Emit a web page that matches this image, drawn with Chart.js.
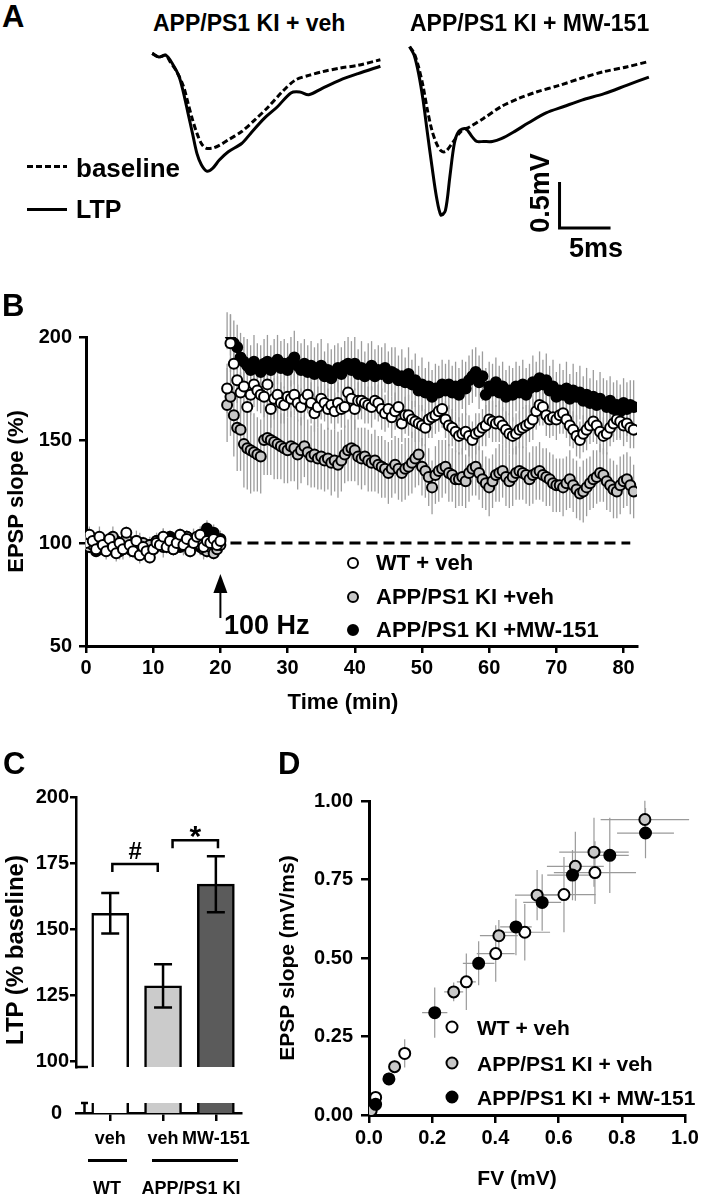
<!DOCTYPE html>
<html>
<head>
<meta charset="utf-8">
<script src="https://cdn.jsdelivr.net/npm/chart.js@4.4.1/dist/chart.umd.min.js"></script>
<style>
html,body{margin:0;padding:0;background:#fff;}
#fig{position:relative;width:703px;height:1199px;overflow:hidden;background:#fff;}
canvas{position:absolute;}
.t{position:absolute;font-family:'Liberation Sans',Arial,sans-serif;font-weight:bold;color:#000;white-space:nowrap;line-height:1;}
.c{transform:translate(-50%,-50%);}
.l{transform:translateY(-50%);}
.r90{transform:translate(-50%,-50%) rotate(-90deg);}
.dot{position:absolute;border-radius:50%;border:2px solid #000;box-sizing:border-box;transform:translate(-50%,-50%);}
.bar{position:absolute;background:#000;}
</style>
</head>
<body>
<div id="fig">
  <!-- A -->
  <canvas id="a1" width="245" height="150" style="left:142px;top:40px"></canvas>
  <canvas id="a2" width="266" height="205" style="left:399px;top:33px"></canvas>
  <div class="t l" style="left:2px;top:16px;font-size:31px">A</div>
  <div class="t l" style="left:153px;top:22.5px;font-size:23px">APP/PS1 KI + veh</div>
  <div class="t l" style="left:410px;top:22.5px;font-size:23px">APP/PS1 KI + MW-151</div>
  <div style="position:absolute;left:27px;top:165px;width:40px;height:3px;background:repeating-linear-gradient(to right,#000 0 6px,transparent 6px 9px)"></div>
  <div class="t l" style="left:76px;top:168px;font-size:26px">baseline</div>
  <div class="bar" style="left:27px;top:207.5px;width:40px;height:3px"></div>
  <div class="t l" style="left:76px;top:209px;font-size:25px">LTP</div>
  <div class="t r90" style="left:540px;top:193px;font-size:27px">0.5mV</div>
  <div class="t c" style="left:596px;top:248px;font-size:27px">5ms</div>

  <!-- B -->
  <canvas id="b" width="703" height="430" style="left:0;top:280px"></canvas>
  <div class="t l" style="left:2px;top:305px;font-size:31px">B</div>
  <div class="t c" style="left:343px;top:702px;font-size:22px">Time (min)</div>
  <div class="t l" style="left:224px;top:625px;font-size:27px">100 Hz</div>
  <div class="dot" style="left:353px;top:563px;width:12px;height:12px;background:#fff"></div>
  <div class="dot" style="left:353px;top:597px;width:12px;height:12px;background:#c8c8c8"></div>
  <div class="dot" style="left:353px;top:630px;width:12px;height:12px;background:#000"></div>
  <div class="t l" style="left:376px;top:563px;font-size:22px">WT + veh</div>
  <div class="t l" style="left:376px;top:597px;font-size:22px">APP/PS1 KI +veh</div>
  <div class="t l" style="left:376px;top:630px;font-size:22px">APP/PS1 KI +MW-151</div>

  <!-- C -->
  <canvas id="c1" width="260" height="300" style="left:0;top:780px"></canvas>
  <canvas id="c2" width="260" height="114" style="left:0;top:1085px"></canvas>
  <div class="t l" style="left:3px;top:763px;font-size:31px">C</div>
  <div class="t r90" style="left:15px;top:950px;font-size:24px">LTP (% baseline)</div>
  <div class="bar" style="left:88px;top:1158.5px;width:39px;height:3px"></div>
  <div class="bar" style="left:152px;top:1158.5px;width:86px;height:3px"></div>
  <div class="t c" style="left:107px;top:1188px;font-size:18px">WT</div>
  <div class="t c" style="left:191px;top:1188px;font-size:18px">APP/PS1 KI</div>

  <!-- D -->
  <canvas id="d" width="443" height="429" style="left:260px;top:770px"></canvas>
  <div class="t l" style="left:278px;top:763px;font-size:31px">D</div>
  <div class="t c" style="left:517px;top:1177px;font-size:21px">FV (mV)</div>
  <div class="dot" style="left:452px;top:1027px;width:13px;height:13px;background:#fff"></div>
  <div class="dot" style="left:452px;top:1063px;width:13px;height:13px;background:#c8c8c8"></div>
  <div class="dot" style="left:452px;top:1097px;width:13px;height:13px;background:#000"></div>
  <div class="t l" style="left:477px;top:1027px;font-size:21px">WT + veh</div>
  <div class="t l" style="left:477px;top:1063px;font-size:21px">APP/PS1 KI + veh</div>
  <div class="t l" style="left:477px;top:1097px;font-size:21px">APP/PS1 KI + MW-151</div>
</div>

<script>
// ---------- A: example traces (ms, mV) ----------
const VEH_BASE_MS = [0,0.66,1.32,1.75,2.41,3.07,3.51,3.95,4.39,4.82,5.26,5.92,6.58,7.46,8.77,10.09,11.40,12.72,14.04,15.35,16.67,18.42,20.18,22.37];
const VEH_BASE_MV = [0,-0.04,-0.02,-0.09,-0.20,-0.36,-0.54,-0.72,-0.87,-0.98,-1.03,-1.03,-1.00,-0.94,-0.85,-0.72,-0.58,-0.42,-0.29,-0.24,-0.20,-0.16,-0.13,-0.07];
const VEH_LTP_MS = [0,0.66,1.32,1.97,2.63,3.07,3.51,3.95,4.39,4.82,5.35,5.92,6.58,7.46,8.77,9.65,10.96,12.28,13.60,14.47,15.35,16.67,18.42,20.18,22.37];
const VEH_LTP_MV = [0,-0.04,-0.02,-0.11,-0.25,-0.43,-0.65,-0.87,-1.09,-1.21,-1.28,-1.25,-1.16,-1.07,-0.98,-0.87,-0.71,-0.58,-0.43,-0.42,-0.45,-0.38,-0.29,-0.22,-0.14];
const MW_BASE_MS = [0,0.44,0.88,1.32,1.75,2.19,2.63,3.07,3.51,4.17,5.04,5.92,7.24,8.99,10.75,12.50,14.69,16.89,19.08,21.27,23.46];
const MW_BASE_MV = [0,-0.07,-0.22,-0.43,-0.69,-0.91,-1.05,-1.13,-1.14,-1.05,-0.92,-0.87,-0.78,-0.65,-0.56,-0.49,-0.42,-0.34,-0.27,-0.22,-0.16];
const MW_LTP_MS = [0,0.44,0.88,1.32,1.75,2.19,2.63,3.07,3.51,3.95,4.39,4.82,5.48,6.14,6.58,7.24,8.11,8.99,10.31,11.62,13.38,15.13,16.89,19.08,21.27,23.46];
const MW_LTP_MV = [0,-0.09,-0.29,-0.58,-0.94,-1.30,-1.63,-1.83,-1.78,-1.41,-1.05,-0.92,-0.89,-0.98,-1.03,-1.03,-1.03,-1.00,-0.92,-0.83,-0.72,-0.65,-0.58,-0.51,-0.42,-0.33];
const BAR_MS = 5, BAR_MV = 0.5;
const BAR_AT = [14.7, -1.97];

// ---------- B: time course (min, % baseline) ----------
const TIME = [
  0,0.5,1,1.5,2,2.5,3,3.5,4,4.5,5,5.5,6,6.5,7,7.5,8,8.5,9,9.5,
  10,10.5,11,11.5,12,12.5,13,13.5,14,14.5,15,15.5,16,16.5,17,17.5,18,18.5,19,19.5,20,
  21,21.5,22,22.5,23,23.5,24,24.5,25,25.5,26,26.5,27,27.5,28,28.5,29,29.5,30,30.5,
  31,31.5,32,32.5,33,33.5,34,34.5,35,35.5,36,36.5,37,37.5,38,38.5,39,39.5,40,40.5,
  41,41.5,42,42.5,43,43.5,44,44.5,45,45.5,46,46.5,47,47.5,48,48.5,49,49.5,50,50.5,
  51,51.5,52,52.5,53,53.5,54,54.5,55,55.5,56,56.5,57,57.5,58,58.5,59,59.5,60,60.5,
  61,61.5,62,62.5,63,63.5,64,64.5,65,65.5,66,66.5,67,67.5,68,68.5,69,69.5,70,70.5,
  71,71.5,72,72.5,73,73.5,74,74.5,75,75.5,76,76.5,77,77.5,78,78.5,79,79.5,80,80.5,
  81,81.5
];
const WT_VEH = [
  100,104,101,97,103,99,96,102,98,95,100,97,105,99,96,101,94,98,96,93,
  97,100,99,103,98,101,97,100,104,99,102,96,100,103,104,98,101,100,102,99,101,
  175,197,187,179,173,176,166,172,177,174,
  172,171,177,165,170,172,168,167,171,170,
  172,168,166,170,172,168,163,166,170,168,
  165,167,164,168,165,166,173,170,165,169,
  169,168,167,166,169,168,165,163,165,161,
  164,166,158,162,162,160,159,158,157,156,
  160,161,162,164,165,160,157,156,154,152,
  153,154,152,150,153,154,156,157,160,159,
  158,159,157,155,153,152,153,155,156,157,
  158,160,164,167,166,162,160,161,160,162,
  163,160,157,155,152,150,153,155,157,159,
  157,154,152,153,156,158,160,159,157,158,
  156,155
];
const KI_VEH = [
  101,98,99,102,100,97,101,99,103,98,96,100,102,97,99,101,98,100,95,99,
  97,101,100,98,102,99,97,101,100,99,103,98,100,101,99,97,96,98,95,97,99,
  167,171,162,156,155,148,146,145,144,143,
  142,150,151,150,149,148,147,146,145,147,
  146,143,145,147,144,142,143,141,142,140,
  141,139,140,138,140,143,145,146,145,142,
  141,142,140,139,140,138,137,136,134,136,
  138,136,134,136,137,139,141,143,137,135,
  132,127,133,135,136,137,134,133,131,131,
  132,130,134,136,137,134,131,129,127,130,
  133,134,135,132,130,132,134,135,134,133,
  131,133,134,135,133,132,131,129,128,128,
  127,129,131,128,126,124,125,127,129,131,
  132,134,133,130,128,126,125,128,130,131,
  128,125
];
const KI_MW = [
  100,102,98,96,101,99,97,100,98,101,99,97,100,98,96,99,100,98,97,99,
  98,101,100,102,99,103,101,100,98,101,103,99,102,100,98,101,107,103,105,100,102,
  203,201,197,195,190,188,186,184,188,185,
  183,187,188,184,186,189,185,187,184,188,
  190,186,184,187,183,186,182,185,186,181,
  184,180,183,185,182,186,187,184,187,182,
  185,181,184,186,181,184,182,185,180,183,
  182,179,181,178,182,177,179,174,177,173,
  176,171,175,173,177,174,177,173,176,172,
  177,175,179,181,183,178,181,172,176,174,
  178,173,176,171,174,172,176,173,177,172,
  175,178,176,180,177,179,174,176,171,174,
  172,175,170,174,171,173,169,172,168,171,
  167,170,168,166,169,165,167,164,168,165,
  167,166
];
const WT_VEH_SEM = [
  3,4,2,3,5,3,4,3,2,4,3,5,3,4,2,3,4,3,5,3,
  4,3,2,4,3,5,3,4,3,2,4,3,5,3,4,3,2,4,3,5,4,
  12,14,12,11,10,10,9,10,11,10,
  9,10,10,9,10,9,10,9,10,9,
  10,9,9,10,9,10,9,10,10,9,
  10,9,9,10,9,10,9,10,10,9,
  9,10,9,10,9,9,10,9,9,10,
  9,10,9,9,10,9,10,9,10,9,
  9,10,9,10,9,9,10,9,10,9,
  10,9,10,9,10,9,9,10,9,10,
  9,10,9,9,10,9,10,9,10,10,
  9,10,9,10,9,10,9,9,10,9,
  10,9,10,9,10,9,9,10,9,10,
  9,10,9,10,9,9,10,9,10,9,
  10,9
];
const KI_VEH_SEM = [
  4,3,5,3,4,2,3,4,5,3,4,3,2,4,3,5,4,3,3,4,
  3,4,3,5,2,4,3,4,3,5,3,4,2,3,4,5,3,4,3,4,3,
  18,19,20,21,20,21,20,21,19,18,
  18,17,18,17,18,17,16,17,16,17,
  16,17,16,15,16,15,16,15,16,15,
  15,16,15,16,15,14,15,16,15,14,
  15,14,15,14,15,14,15,14,15,14,
  14,15,14,15,14,15,14,15,14,13,
  14,13,14,15,14,13,14,13,14,13,
  14,13,14,13,14,13,14,13,14,13,
  13,14,13,14,13,14,13,14,13,14,
  13,14,13,14,13,14,13,14,13,13,
  14,13,14,13,14,13,15,14,13,14,
  13,14,13,14,13,14,13,14,13,13,
  14,13
];
const KI_MW_SEM = [
  3,3,4,2,3,4,3,5,3,4,2,3,4,3,3,4,5,3,4,3,
  4,3,3,5,4,3,4,3,2,4,3,4,5,3,4,3,4,5,4,3,4,
  9,10,11,11,12,12,13,12,13,12,
  13,12,13,12,13,12,13,12,13,12,
  13,12,13,12,13,12,13,12,13,12,
  13,14,13,12,13,12,13,14,13,12,
  13,12,13,12,13,12,13,12,13,12,
  13,12,13,12,13,12,13,12,13,12,
  12,13,12,13,12,13,12,13,12,13,
  12,13,12,13,12,13,12,13,12,13,
  12,13,12,13,12,13,12,13,12,13,
  12,13,12,13,12,13,12,13,12,13,
  12,13,12,13,12,13,12,13,12,13,
  12,13,12,13,12,13,12,13,12,13,
  12,13
];
const BASELINE_T = [21.5, 81];
const BASELINE_V = [100, 100];
const STIM_T = 20, ARROW_TIP = 85, ARROW_TAIL = 63.6;
const B_XTICKS = [0,10,20,30,40,50,60,70,80];
const B_YTICKS = [50,100,150,200];

// ---------- C: LTP summary ----------
const C_POS = [1, 2, 3];
const C_LABELS = ['veh', 'veh', 'MW-151'];
const LTP_MEAN = [156, 128.5, 167];
const LTP_SEM = [7.7, 8.2, 10.6];
const C_FILL = ['#ffffff', '#cbcbcb', '#5b5b5b'];
const C_YTICKS = [100, 125, 150, 175, 200];
const SIG = [
  { from: 1.04, to: 1.9, y: 174.6, text: '#' },
  { from: 2.18, to: 3.04, y: 183.6, text: '*' }
];

// ---------- D: input-output ----------
const D_WT_FV = [0.021,0.113,0.308,0.401,0.493,0.617,0.715];
const D_WT_SLOPE = [0.056,0.196,0.424,0.514,0.582,0.702,0.772];
const D_WT_FV_SEM = [0.01,0.01,0.03,0.06,0.08,0.1,0.13];
const D_WT_SLOPE_SEM = [0.01,0.045,0.09,0.09,0.09,0.12,0.1];
const D_KI_FV = [0.007,0.081,0.268,0.411,0.532,0.653,0.712,0.873];
const D_KI_SLOPE = [0.014,0.154,0.392,0.571,0.700,0.792,0.837,0.941];
const D_KI_FV_SEM = [0.005,0.01,0.03,0.06,0.07,0.09,0.11,0.14];
const D_KI_SLOPE_SEM = [0.008,0.02,0.03,0.05,0.08,0.11,0.11,0.06];
const D_MW_FV = [0.021,0.063,0.208,0.347,0.465,0.548,0.644,0.762,0.875];
const D_MW_SLOPE = [0.034,0.115,0.326,0.483,0.599,0.677,0.764,0.827,0.898];
const D_MW_FV_SEM = [0.008,0.01,0.04,0.05,0.05,0.06,0.08,0.06,0.09];
const D_MW_SLOPE_SEM = [0.01,0.02,0.08,0.07,0.09,0.09,0.08,0.12,0.08];
const D_XTICKS = [0,0.2,0.4,0.6,0.8,1.0];
const D_YTICKS = [0,0.25,0.5,0.75,1.0];

// ---------- common ----------
Chart.defaults.font.family = "'Liberation Sans', Arial, sans-serif";
Chart.defaults.font.weight = 'bold';
Chart.defaults.color = '#000';
Chart.defaults.animation = false;
Chart.defaults.responsive = false;
Chart.defaults.plugins.legend.display = false;
Chart.defaults.plugins.tooltip.enabled = false;

const xy = (xs, ys) => xs.map((x, i) => ({ x, y: ys[i] }));
const fixTicks = vals => axis => { axis.ticks = vals.map(v => ({ value: v })); };

const errorBars = {
  id: 'errorBars',
  beforeDatasetsDraw(chart, args, opts) {
    const { ctx, scales: { x, y } } = chart;
    ctx.save();
    ctx.strokeStyle = opts.color || '#999';
    ctx.lineWidth = opts.width || 1;
    chart.data.datasets.forEach(ds => {
      if (!ds.errY) return;
      ds.data.forEach((p, i) => {
        const px = x.getPixelForValue(p.x), py = y.getPixelForValue(p.y);
        ctx.beginPath();
        ctx.moveTo(px, y.getPixelForValue(p.y - ds.errY[i]));
        ctx.lineTo(px, y.getPixelForValue(p.y + ds.errY[i]));
        if (ds.errX) {
          ctx.moveTo(x.getPixelForValue(p.x - ds.errX[i]), py);
          ctx.lineTo(x.getPixelForValue(p.x + ds.errX[i]), py);
        }
        ctx.stroke();
      });
    });
    ctx.restore();
  }
};

/* ========= A ========= */
function traceChart(id, xr, yr, base, ltp, extra) {
  return new Chart(document.getElementById(id), {
    type: 'line',
    data: {
      datasets: [
        { data: base, borderDash: [6, 3] },
        { data: ltp }
      ]
    },
    options: {
      devicePixelRatio: 1,
      layout: { padding: 0 },
      elements: {
        point: { radius: 0 },
        line: { tension: 0.3, borderWidth: 3, borderColor: '#000', fill: false }
      },
      scales: {
        x: { type: 'linear', display: false, min: xr[0], max: xr[1] },
        y: { type: 'linear', display: false, min: yr[0], max: yr[1] }
      }
    },
    plugins: extra ? [extra] : []
  });
}

const scaleBar = {
  id: 'scaleBar',
  afterDatasetsDraw(chart) {
    const { ctx, scales: { x, y } } = chart;
    const x0 = x.getPixelForValue(BAR_AT[0]), y0 = y.getPixelForValue(BAR_AT[1]);
    const x1 = x.getPixelForValue(BAR_AT[0] + BAR_MS), y1 = y.getPixelForValue(BAR_AT[1] + BAR_MV);
    ctx.save();
    ctx.strokeStyle = '#000';
    ctx.lineWidth = 3;
    ctx.beginPath();
    ctx.moveTo(x0, y1);
    ctx.lineTo(x0, y0);
    ctx.lineTo(x1, y0);
    ctx.stroke();
    ctx.restore();
  }
};

traceChart('a1', [-1, 23.02], [-1.485, 0.145], xy(VEH_BASE_MS, VEH_BASE_MV), xy(VEH_LTP_MS, VEH_LTP_MV));
traceChart('a2', [-1.04, 25.04], [-2.079, 0.149], xy(MW_BASE_MS, MW_BASE_MV), xy(MW_LTP_MS, MW_LTP_MV), scaleBar);

/* ========= B ========= */
const stimArrow = {
  id: 'stimArrow',
  afterDatasetsDraw(chart) {
    const { ctx, scales: { x, y } } = chart;
    const px = x.getPixelForValue(STIM_T);
    const tip = y.getPixelForValue(ARROW_TIP), tail = y.getPixelForValue(ARROW_TAIL);
    ctx.save();
    ctx.strokeStyle = '#000';
    ctx.fillStyle = '#000';
    ctx.lineWidth = 2;
    ctx.beginPath();
    ctx.moveTo(px, tip + 12);
    ctx.lineTo(px, tail);
    ctx.stroke();
    ctx.beginPath();
    ctx.moveTo(px, tip);
    ctx.lineTo(px - 7, tip + 19);
    ctx.lineTo(px + 7, tip + 19);
    ctx.closePath();
    ctx.fill();
    ctx.restore();
  }
};

const pointSet = (ys, err, fill, order) => ({
  data: xy(TIME, ys),
  errY: err,
  pointRadius: 5,
  pointBorderWidth: 2,
  pointBackgroundColor: fill,
  pointBorderColor: '#000',
  order
});

new Chart(document.getElementById('b'), {
  type: 'scatter',
  data: {
    datasets: [
      pointSet(WT_VEH, WT_VEH_SEM, '#ffffff', 1),
      pointSet(KI_VEH, KI_VEH_SEM, '#c8c8c8', 2),
      pointSet(KI_MW, KI_MW_SEM, '#000000', 3),
      {
        type: 'line', data: xy(BASELINE_T, BASELINE_V), showLine: true,
        borderColor: '#000', borderWidth: 3, borderDash: [11, 6], pointRadius: 0, order: 4
      }
    ]
  },
  options: {
    devicePixelRatio: 1,
    layout: { padding: { top: 57, right: 66, left: 0, bottom: 0 } },
    plugins: { errorBars: { color: '#9c9c9c', width: 1.3 } },
    scales: {
      x: {
        type: 'linear', min: 0, max: 82,
        afterFit: s => { s.height = 64; },
        afterBuildTicks: fixTicks(B_XTICKS),
        border: { color: '#000', width: 3 },
        grid: { drawOnChartArea: false, color: '#000', lineWidth: 2.5, tickLength: 7 },
        ticks: { color: '#000', font: { size: 20, weight: 'bold' }, padding: 3, maxRotation: 0 }
      },
      y: {
        type: 'linear', min: 50, max: 200,
        afterFit: s => { s.width = 86; },
        afterBuildTicks: fixTicks(B_YTICKS),
        border: { color: '#000', width: 3 },
        grid: { drawOnChartArea: false, color: '#000', lineWidth: 2.5, tickLength: 7 },
        ticks: { color: '#000', font: { size: 20, weight: 'bold' }, padding: 7 },
        title: { display: true, text: 'EPSP slope (%)', color: '#000', font: { size: 22, weight: 'bold' }, padding: { top: 4, bottom: 0 } }
      }
    }
  },
  plugins: [errorBars, stimArrow]
});

/* ========= C ========= */
const cTop = {
  id: 'cTop',
  afterDatasetsDraw(chart) {
    const { ctx, chartArea, scales: { x, y } } = chart;
    ctx.save();
    ctx.strokeStyle = '#000';
    ctx.fillStyle = '#000';
    ctx.lineWidth = 2.5;
    // error bars
    C_POS.forEach((p, i) => {
      const px = x.getPixelForValue(p);
      const hi = y.getPixelForValue(LTP_MEAN[i] + LTP_SEM[i]);
      const lo = y.getPixelForValue(LTP_MEAN[i] - LTP_SEM[i]);
      ctx.beginPath();
      ctx.moveTo(px, hi); ctx.lineTo(px, lo);
      ctx.moveTo(px - 9, hi); ctx.lineTo(px + 9, hi);
      ctx.moveTo(px - 9, lo); ctx.lineTo(px + 9, lo);
      ctx.stroke();
    });
    // significance brackets
    SIG.forEach(s => {
      const x0 = x.getPixelForValue(s.from), x1 = x.getPixelForValue(s.to);
      const py = y.getPixelForValue(s.y);
      ctx.beginPath();
      ctx.moveTo(x0, py + 8); ctx.lineTo(x0, py); ctx.lineTo(x1, py); ctx.lineTo(x1, py + 8);
      ctx.stroke();
      ctx.textAlign = 'center';
      ctx.textBaseline = 'alphabetic';
      if (s.text === '*') {
        ctx.font = "bold 30px 'Liberation Sans', Arial, sans-serif";
        ctx.fillText(s.text, (x0 + x1) / 2, py + 6);
      } else {
        ctx.font = "bold 24px 'Liberation Sans', Arial, sans-serif";
        ctx.fillText(s.text, (x0 + x1) / 2, py - 5);
      }
    });
    // axis break mark
    ctx.beginPath();
    ctx.moveTo(chartArea.left, chartArea.bottom);
    ctx.lineTo(chartArea.left + 12, chartArea.bottom);
    ctx.stroke();
    ctx.restore();
  }
};

const cBottom = {
  id: 'cBottom',
  afterDatasetsDraw(chart) {
    const { ctx, chartArea } = chart;
    ctx.save();
    ctx.strokeStyle = '#000';
    ctx.lineWidth = 2.5;
    ctx.beginPath();
    ctx.moveTo(chartArea.left + 5, chartArea.top);
    ctx.lineTo(chartArea.left + 12, chartArea.top);
    ctx.moveTo(chartArea.left + 8.5, chartArea.top);
    ctx.lineTo(chartArea.left + 8.5, chartArea.bottom);
    ctx.stroke();
    ctx.restore();
  }
};

const barSet = () => ({
  data: xy(C_POS, LTP_MEAN),
  backgroundColor: C_FILL,
  borderColor: '#000',
  borderWidth: 2.5,
  borderSkipped: 'start',
  barThickness: 37,
  clip: 0
});

new Chart(document.getElementById('c1'), {
  type: 'bar',
  data: { datasets: [barSet()] },
  options: {
    devicePixelRatio: 1,
    layout: { padding: { top: 17, right: 19, bottom: 3, left: 0 } },
    scales: {
      x: { type: 'linear', min: 0.352, max: 3.476, offset: false, display: false },
      y: {
        type: 'linear', min: 97.8, max: 200,
        afterFit: s => { s.width = 76; },
        afterBuildTicks: fixTicks(C_YTICKS),
        border: { color: '#000', width: 2.5 },
        grid: { drawOnChartArea: false, color: '#000', lineWidth: 2.5, tickLength: 6 },
        ticks: { color: '#000', font: { size: 20, weight: 'bold' }, padding: 1 }
      }
    }
  },
  plugins: [cTop]
});

new Chart(document.getElementById('c2'), {
  type: 'bar',
  data: { datasets: [barSet()] },
  options: {
    devicePixelRatio: 1,
    layout: { padding: { top: 10, right: 19, bottom: 0, left: 0 } },
    scales: {
      x: {
        type: 'linear', min: 0.352, max: 3.476, offset: false,
        afterFit: s => { s.height = 86; },
        afterBuildTicks: fixTicks(C_POS),
        border: { color: '#000', width: 2.5 },
        grid: { drawOnChartArea: false, color: '#000', lineWidth: 2.5, tickLength: 8, offset: false },
        ticks: { color: '#000', font: { size: 18, weight: 'bold' }, padding: 7, maxRotation: 0,
                 callback: v => C_LABELS[C_POS.indexOf(v)] }
      },
      y: {
        type: 'linear', min: 0, max: 6.6,
        afterFit: s => { s.width = 76; },
        afterBuildTicks: fixTicks([0]),
        border: { display: false },
        grid: { display: false },
        ticks: { color: '#000', font: { size: 20, weight: 'bold' }, padding: 6 }
      }
    }
  },
  plugins: [cBottom]
});

/* ========= D ========= */
const ioSet = (fv, sl, efv, esl, fill, order) => ({
  data: xy(fv, sl),
  errX: efv,
  errY: esl,
  pointRadius: 5.5,
  pointBorderWidth: 2,
  pointBackgroundColor: fill,
  pointBorderColor: '#000',
  order
});

new Chart(document.getElementById('d'), {
  type: 'scatter',
  data: {
    datasets: [
      ioSet(D_WT_FV, D_WT_SLOPE, D_WT_FV_SEM, D_WT_SLOPE_SEM, '#ffffff', 3),
      ioSet(D_KI_FV, D_KI_SLOPE, D_KI_FV_SEM, D_KI_SLOPE_SEM, '#c8c8c8', 2),
      ioSet(D_MW_FV, D_MW_SLOPE, D_MW_FV_SEM, D_MW_SLOPE_SEM, '#000000', 1)
    ]
  },
  options: {
    devicePixelRatio: 1,
    layout: { padding: { top: 31, right: 18, bottom: 0, left: 0 } },
    plugins: { errorBars: { color: '#9a9a9a', width: 1.2 } },
    scales: {
      x: {
        type: 'linear', min: 0, max: 1,
        afterFit: s => { s.height = 84; },
        afterBuildTicks: fixTicks(D_XTICKS),
        border: { color: '#000', width: 3 },
        grid: { drawOnChartArea: false, color: '#000', lineWidth: 2.5, tickLength: 8 },
        ticks: { color: '#000', font: { size: 20, weight: 'bold' }, padding: 3, maxRotation: 0,
                 callback: v => v.toFixed(1) }
      },
      y: {
        type: 'linear', min: 0, max: 1,
        afterFit: s => { s.width = 109; },
        afterBuildTicks: fixTicks(D_YTICKS),
        border: { color: '#000', width: 3 },
        grid: { drawOnChartArea: false, color: '#000', lineWidth: 2.5, tickLength: 8 },
        ticks: { color: '#000', font: { size: 20, weight: 'bold' }, padding: 8,
                 callback: v => v.toFixed(2) },
        title: { display: true, text: 'EPSP slope (mV/ms)', color: '#000', font: { size: 21, weight: 'bold' }, padding: { top: 16, bottom: 0 } }
      }
    }
  },
  plugins: [errorBars]
});
</script>
</body>
</html>
